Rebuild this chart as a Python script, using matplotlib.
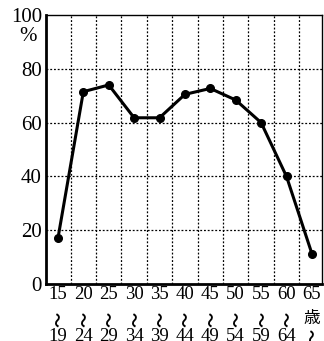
import matplotlib
matplotlib.use('Agg')
import matplotlib.pyplot as plt
import numpy as np

# Age groups and rates (%)
age_from = ['15', '20', '25', '30', '35', '40', '45', '50', '55', '60', '65']
age_mid = ['〜', '〜', '〜', '〜', '〜', '〜', '〜', '〜', '〜', '〜', '歳']
age_to = ['19', '24', '29', '34', '39', '44', '49', '54', '59', '64', '〜']
rate = [17, 71.5, 74, 61.8, 61.8, 70.5, 72.7, 68.4, 60, 40, 11.3]
y_ticks = [0, 20, 40, 60, 80, 100]

fonts = ['Liberation Serif', 'DejaVu Sans', 'Noto Sans CJK JP']
plt.rcParams['font.family'] = fonts

fig = plt.figure(figsize=(3.24, 3.41), dpi=100)
ax = fig.add_axes([0.142, 0.167, 0.852, 0.789])

x = np.arange(len(rate))
ax.plot(x, rate, color='black', linewidth=2.2, marker='o', markersize=5.5)

ax.set_xlim(-0.47, 10.4)
ax.set_ylim(0, 100)

# dotted grid
for gx in np.arange(0.5, 10, 1):
    ax.axvline(gx, color='black', linestyle=(0, (1.5, 1.5)), linewidth=0.9, zorder=0)
for gy in y_ticks[1:-1]:
    ax.axhline(gy, color='black', linestyle=(0, (1.5, 1.5)), linewidth=0.9, zorder=0)

ax.set_xticks([])
ax.set_yticks(y_ticks)
ax.set_yticklabels([str(v) for v in y_ticks], fontsize=15)
ax.tick_params(axis='y', length=0, pad=3)

ax.spines['left'].set_linewidth(2)
ax.spines['bottom'].set_linewidth(2)
ax.spines['top'].set_linewidth(1)
ax.spines['right'].set_linewidth(1)

ax.text(-0.067, 0.92, '%', transform=ax.transAxes, fontsize=15,
        ha='center', va='center')


def label(xi, yf, s, size):
    if s == '〜':
        ax.text(xi, yf, s, transform=tr, fontsize=11, rotation=90,
                family='Noto Sans CJK JP', fontweight='bold',
                ha='center', va='center', clip_on=False)
    else:
        ax.text(xi, yf, s, transform=tr, fontsize=size,
                ha='center', va='center', clip_on=False)


tr = ax.get_xaxis_transform()
for i in range(len(age_from)):
    label(x[i], -0.039, age_from[i], 13.5)
    label(x[i], -0.13, age_mid[i], 12)
    label(x[i], -0.195, age_to[i], 13.5)

fig.savefig('out.png', dpi=100)
